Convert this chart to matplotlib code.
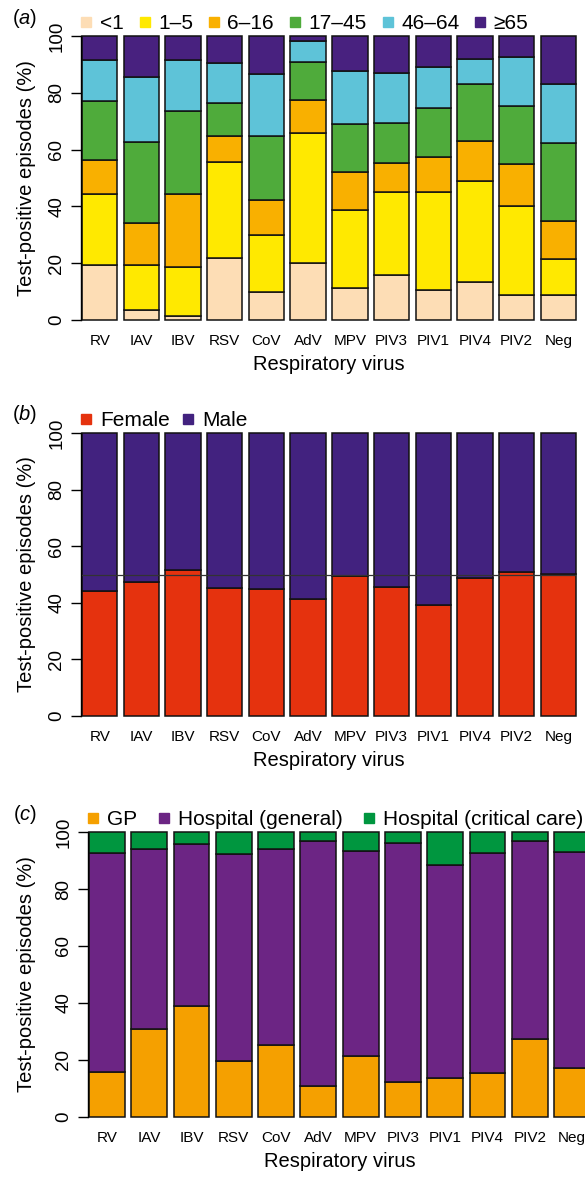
import numpy as np
import matplotlib.pyplot as plt
from matplotlib.lines import Line2D

plt.rcParams['font.family'] = ['Liberation Sans', 'DejaVu Sans']
plt.rcParams['mathtext.fontset'] = 'custom'
plt.rcParams['mathtext.it'] = 'Liberation Sans:italic'
plt.rcParams['mathtext.rm'] = 'Liberation Sans'

viruses = ['RV', 'IAV', 'IBV', 'RSV', 'CoV', 'AdV', 'MPV', 'PIV3', 'PIV1', 'PIV4', 'PIV2', 'Neg']

# (a) age group shares (%)
age_labels = ['<1', '1\u20135', '6\u201316', '17\u201345', '46\u201364', '\u226565']
age_lt1 = [19.2, 3.4, 1.5, 21.9, 9.8, 20.0, 11.1, 15.8, 10.7, 13.4, 8.7, 8.7]
age_1_5 = [25.2, 15.9, 17.2, 33.9, 20.0, 45.9, 27.8, 29.3, 34.2, 35.6, 31.4, 12.8]
age_6_16 = [12.0, 14.7, 25.7, 9.0, 12.5, 11.7, 13.3, 10.1, 12.6, 14.2, 14.9, 13.3]
age_17_45 = [20.8, 28.8, 29.3, 11.6, 22.6, 13.1, 16.7, 14.3, 17.1, 19.8, 20.4, 27.4]
age_46_64 = [14.2, 22.6, 18.0, 14.2, 21.7, 7.4, 18.8, 17.6, 14.6, 9.0, 17.2, 20.8]
age_65 = [8.6, 14.6, 8.3, 9.4, 13.4, 1.9, 12.3, 12.9, 10.8, 8.0, 7.4, 17.0]
age_colors = ['#FDDDB5', '#FFE900', '#F9B000', '#4FAB3B', '#5EC3D8', '#48217F']

# (b) sex shares (%)
sex_labels = ['Female', 'Male']
female = [44.1, 47.3, 51.6, 45.2, 45.0, 41.4, 49.3, 45.5, 39.2, 48.6, 50.9, 50.1]
male = [55.9, 52.7, 48.4, 54.8, 55.0, 58.6, 50.7, 54.5, 60.8, 51.4, 49.1, 49.9]
sex_colors = ['#E5320E', '#42227F']

# (c) setting shares (%)
care_labels = ['GP', 'Hospital (general)', 'Hospital (critical care)']
gp = [15.8, 31.0, 38.9, 19.8, 25.3, 10.8, 21.4, 12.4, 13.7, 15.6, 27.4, 17.2]
hosp_general = [76.7, 63.2, 56.8, 72.6, 68.9, 86.1, 71.8, 83.9, 74.7, 77.0, 69.4, 75.7]
hosp_critical = [7.5, 5.8, 4.3, 7.6, 5.8, 3.1, 6.8, 3.7, 11.6, 7.4, 3.2, 7.1]
care_colors = ['#F5A000', '#6C2584', '#00963F']

W, H = 585, 1177
fig = plt.figure(figsize=(W / 100, H / 100), dpi=100)
BW = 0.85


def panel(x0, x1, ytop, ybot, series, colors, labels, tag, leg_kw):
    ax = fig.add_axes([x0 / W, 1 - ybot / H, (x1 - x0) / W, (ybot - ytop) / H])
    x = np.arange(len(viruses))
    bottom = np.zeros(len(viruses))
    for vals, c in zip(series, colors):
        ax.bar(x, vals, BW, bottom=bottom, color=c, edgecolor='#111111', linewidth=1.1, clip_on=False)
        bottom += np.array(vals)
    ax.set_xlim(-BW / 2, len(viruses) - 1 + BW / 2)
    ax.set_ylim(0, 100)
    for s in ['top', 'right', 'bottom']:
        ax.spines[s].set_visible(False)
    ax.spines['left'].set_position(('outward', 1))
    ax.spines['left'].set_linewidth(1.0)
    ax.set_yticks([0, 20, 40, 60, 80, 100])
    ax.tick_params(axis='y', length=7, width=1.0, labelsize=13.5, pad=4, labelrotation=90)
    for t in ax.get_yticklabels():
        t.set_va('center')
    ax.set_xticks(x)
    ax.set_xticklabels(viruses, fontsize=11)
    ax.tick_params(axis='x', length=0, pad=10)
    ax.set_xlabel('Respiratory virus', fontsize=14.5, labelpad=5)
    ax.set_ylabel('Test-positive episodes (%)', fontsize=14.5, va='center')
    ax.yaxis.set_label_coords((27 - x0) / (x1 - x0), 0.5)
    handles = [Line2D([], [], marker='s', ls='', color=c, markersize=7) for c in colors]
    ax.legend(handles, labels, loc='lower left', bbox_to_anchor=(-0.01, 1.0), frameon=False,
              ncol=len(labels), fontsize=15, handlelength=0.6, handletextpad=0.35,
              borderaxespad=0.05, borderpad=0.1, **leg_kw)
    fig.text(25 / W, 1 - (ytop - 18) / H, '($\\mathit{' + tag + '}$)', fontsize=14.5, ha='center', va='center')
    return ax


axa = panel(82, 576, 36, 320,
            [age_lt1, age_1_5, age_6_16, age_17_45, age_46_64, age_65],
            age_colors, age_labels, 'a', dict(columnspacing=0.7))

axb = panel(82, 576, 433, 716, [female, male], sex_colors, sex_labels, 'b',
            dict(columnspacing=0.6))
axb.axhline(50, color='#333333', lw=0.9, zorder=5)

axc = panel(89, 590, 832, 1117, [gp, hosp_general, hosp_critical], care_colors, care_labels, 'c',
            dict(columnspacing=1.0))

fig.savefig('out.png', dpi=100)
